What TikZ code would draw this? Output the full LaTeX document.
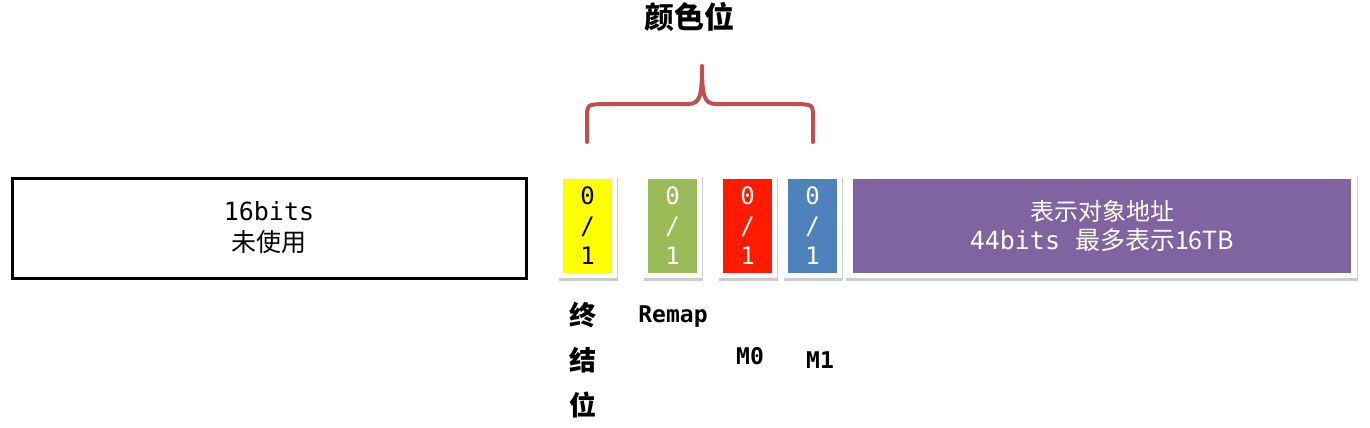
\documentclass[tikz,border=0pt]{standalone}
\usepackage{fontspec}
\setmonofont{DejaVu Sans Mono}
\newfontfamily\cjk{Noto Sans CJK SC}
\usetikzlibrary{shadows}
\definecolor{TileYellow}{HTML}{FFFF00}
\definecolor{TileGreen}{HTML}{9BBB59}
\definecolor{TileRed}{HTML}{FF1A00}
\definecolor{TileBlue}{HTML}{4F81BD}
\definecolor{TilePurple}{HTML}{8064A2}
\definecolor{BraceRed}{HTML}{C0504D}
\newcommand{\fsz}[2]{\fontsize{#1}{#2}\selectfont}
\begin{document}
\begin{tikzpicture}[x=1pt,y=-1pt,every node/.style={inner sep=0pt,align=center},
  frame/.style={fill=white,minimum width=59,minimum height=103,drop shadow={shadow xshift=1pt,shadow yshift=-3pt,opacity=.4}},
  tile/.style={minimum width=49,minimum height=94,font=\ttfamily\fsz{24}{30}},
  lbl/.style={font=\ttfamily\bfseries\fsz{23}{26}}]
\useasboundingbox (0,0) rectangle (1370,428); \fill[white] (0,0) rectangle (1370,428);
\node[font=\cjk\bfseries\fsz{30}{34}] (title) at (689,17){颜色位};
% unused high bits
\node[draw=black,line width=3pt,minimum width=514,minimum height=100,font=\fsz{25}{31}] (unused) at (269,228){\ttfamily 16bits\\\cjk 未使用};
% colour bits
\foreach \nm/\cx/\col/\tc in {fin/587.5/TileYellow/black,remap/672.5/TileGreen/white,mzero/747.5/TileRed/white,mone/812.5/TileBlue/white}{
  \node[frame] (\nm-f) at (\cx,226.5){}; \node[tile,fill=\col,text=\tc] (\nm) at (\cx,226){0\\/\\1};}
% object address
\node[frame,minimum width=512,minimum height=105] (addr-f) at (1101,225.5){};
\node[fill=TilePurple,text=white,minimum width=498,minimum height=94,font=\fsz{24}{29}] (addr) at (1102,226){\cjk 表示对象地址\\\ttfamily\fsz{25}{29}44bits\ \cjk 最多表示16TB};
\node[font=\cjk\bfseries\fsz{27}{45}] (finlbl) at (583,360){终\\结\\位};
\node[lbl] (remaplbl) at (673,317){Remap}; \node[lbl] (mzerolbl) at (750,356){M0}; \node[lbl] (monelbl) at (820,360){M1};
\draw[BraceRed,line width=4pt,line cap=round,line join=round] (587,142)--(587,119) .. controls (587,105) .. (600,104)--(688,104) .. controls (700,104) and (702,96) .. (702,66)
  .. controls (702,96) and (704,104) .. (716,104)--(800,104) .. controls (813,105) .. (813,119)--(813,142);
\end{tikzpicture}
\end{document}
